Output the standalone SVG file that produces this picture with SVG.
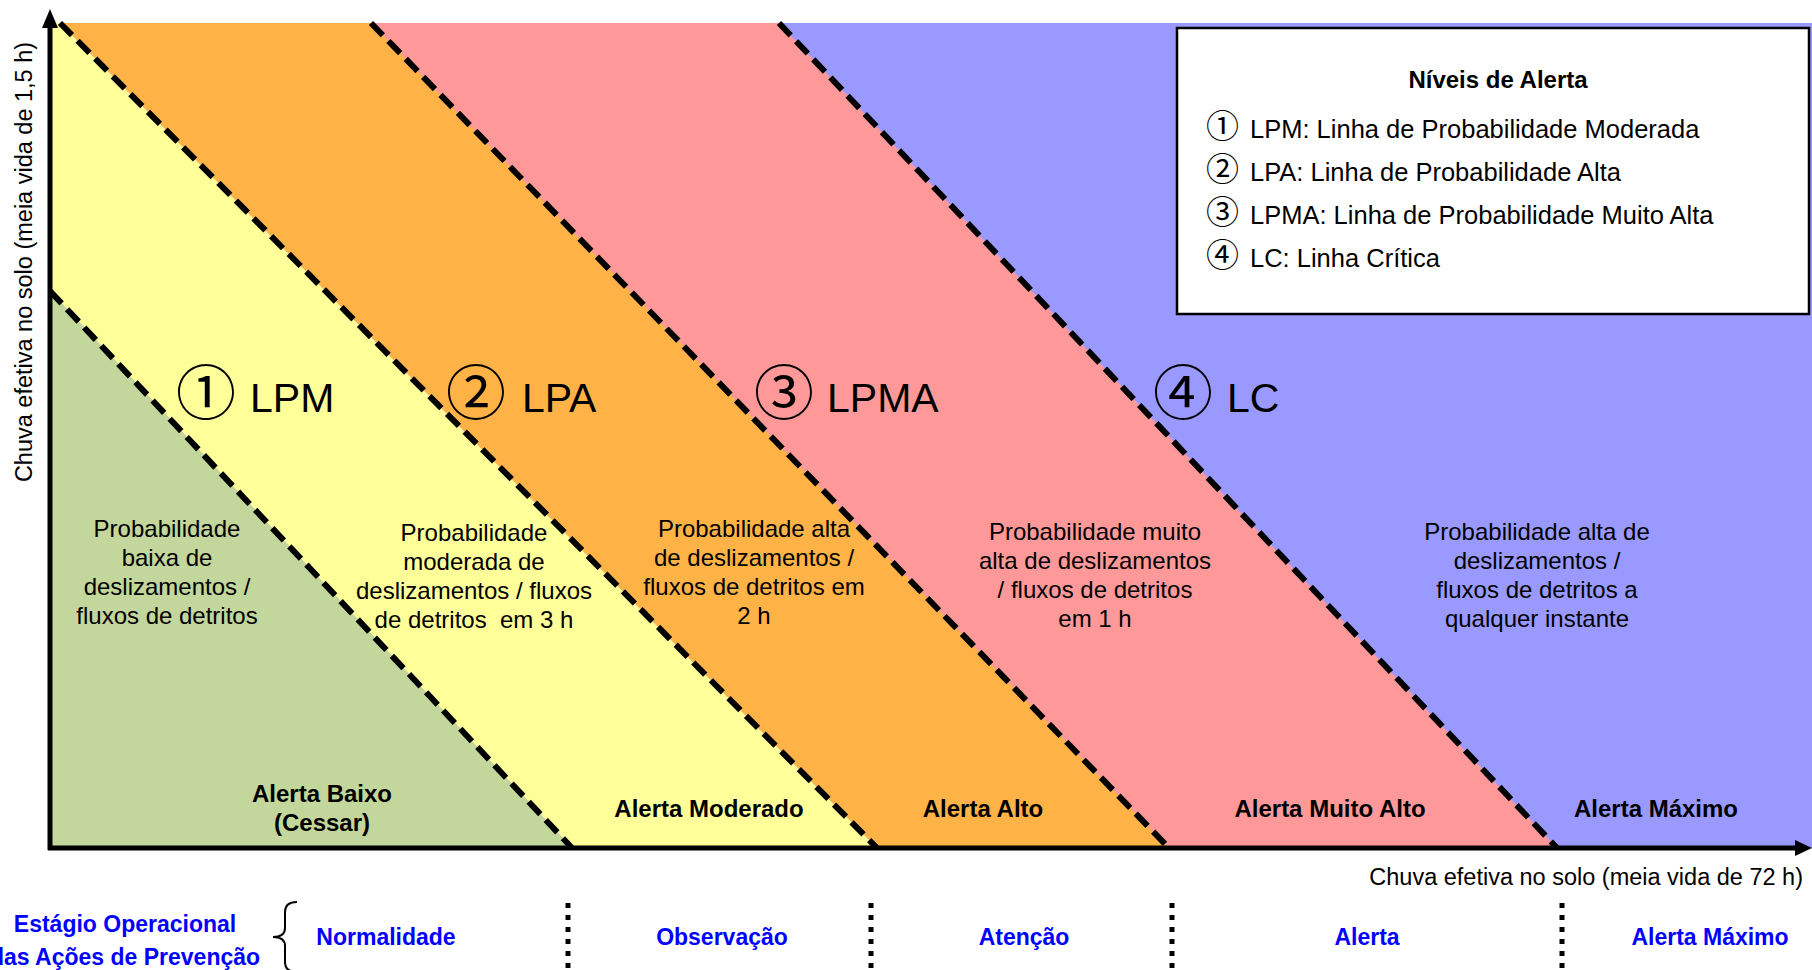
<svg xmlns="http://www.w3.org/2000/svg" width="1812" height="970" viewBox="0 0 1812 970">
<defs>
<style>
.t{font-family:"Liberation Sans",Arial,sans-serif;fill:#000}
.reg{font-size:24px;text-anchor:middle;white-space:pre}
.alv{font-size:24px;font-weight:bold;text-anchor:middle}
.big{font-size:41px}
.cd{font-family:"Noto Sans CJK JP","DejaVu Sans",sans-serif;font-weight:normal}
.leg{font-size:25.5px}
.blue{font-family:"Liberation Sans",Arial,sans-serif;font-size:23px;font-weight:bold;fill:#0000FF;text-anchor:middle}
.dash{stroke:#000;stroke-width:6;stroke-dasharray:17 8;fill:none}
.dot{stroke:#000;stroke-width:5;stroke-dasharray:5 7;fill:none}
.axis{stroke:#000;stroke-width:5;fill:none}
</style>
</defs>
<g id="bands">
<rect x="50" y="23" width="1762" height="825" fill="#9999FF"/>
<polygon points="371,23 779,23 1557,848 1169,848" fill="#FF9999"/>
<polygon points="60,23 371,23 1169,848 877,848" fill="#FFB347"/>
<polygon points="50,23 60,23 877,848 572,848 50,291" fill="#FFFF99"/>
<polygon points="50,291 572,848 50,848" fill="#C3D69B"/>
</g>
<g id="connectors">
<line class="dash" x1="50" y1="291" x2="572" y2="848"/>
<line class="dash" x1="60" y1="23" x2="877" y2="848"/>
<line class="dash" x1="371" y1="23" x2="1169" y2="848"/>
<line class="dash" x1="779" y1="23" x2="1557" y2="848"/>
</g>
<g id="axes">
<line class="axis" x1="50" y1="850" x2="50" y2="26"/>
<polygon points="50,9 42,28 58,28" fill="#000"/>
<line class="axis" x1="48" y1="848" x2="1797" y2="848"/>
<polygon points="1812,848 1795,840 1795,856" fill="#000"/>
<text class="t" font-size="23.5" text-anchor="middle" transform="translate(32,262) rotate(-90)">Chuva efetiva no solo (meia vida de 1,5 h)</text>
<text class="t" font-size="23.5" text-anchor="end" x="1803" y="885">Chuva efetiva no solo (meia vida de 72 h)</text>
</g>
<g id="line-labels">
<text class="t big" x="176" y="415"><tspan class="cd" font-size="60">① </tspan><tspan x="250" y="412">LPM</tspan></text>
<text class="t big" x="446" y="415"><tspan class="cd" font-size="60">② </tspan><tspan x="522" y="412">LPA</tspan></text>
<text class="t big" x="754" y="415"><tspan class="cd" font-size="60">③ </tspan><tspan x="827" y="412">LPMA</tspan></text>
<text class="t big" x="1153" y="415"><tspan class="cd" font-size="60">④ </tspan><tspan x="1227" y="412">LC</tspan></text>
</g>
<g id="zone-green">
<text class="t reg"><tspan x="167" y="537">Probabilidade</tspan><tspan x="167" y="566">baixa de</tspan><tspan x="167" y="595">deslizamentos /</tspan><tspan x="167" y="624">fluxos de detritos</tspan></text>
<text class="t alv"><tspan x="322" y="802">Alerta Baixo</tspan><tspan x="322" y="831">(Cessar)</tspan></text>
</g>
<g id="zone-yellow">
<text class="t reg"><tspan x="474" y="541">Probabilidade</tspan><tspan x="474" y="570">moderada de</tspan><tspan x="474" y="599">deslizamentos / fluxos</tspan><tspan x="474" y="628">de detritos  em 3 h</tspan></text>
<text class="t alv" x="709" y="817">Alerta Moderado</text>
</g>
<g id="zone-orange">
<text class="t reg"><tspan x="754" y="537">Probabilidade alta</tspan><tspan x="754" y="566">de deslizamentos /</tspan><tspan x="754" y="595">fluxos de detritos em</tspan><tspan x="754" y="624">2 h</tspan></text>
<text class="t alv" x="983" y="817">Alerta Alto</text>
</g>
<g id="zone-pink">
<text class="t reg"><tspan x="1095" y="540">Probabilidade muito</tspan><tspan x="1095" y="569">alta de deslizamentos</tspan><tspan x="1095" y="598">/ fluxos de detritos</tspan><tspan x="1095" y="627">em 1 h</tspan></text>
<text class="t alv" x="1330" y="817">Alerta Muito Alto</text>
</g>
<g id="zone-blue">
<text class="t reg"><tspan x="1537" y="540">Probabilidade alta de</tspan><tspan x="1537" y="569">deslizamentos /</tspan><tspan x="1537" y="598">fluxos de detritos a</tspan><tspan x="1537" y="627">qualquer instante</tspan></text>
<text class="t alv" x="1656" y="817">Alerta Máximo</text>
</g>
<g id="legend">
<rect x="1177" y="28" width="632" height="286" fill="#FFFFFF" stroke="#000" stroke-width="2.5"/>
<text class="t" font-size="24" font-weight="bold" text-anchor="middle" x="1498" y="88">Níveis de Alerta</text>
<text class="t leg" x="1206" y="138"><tspan class="cd" font-size="33">① </tspan><tspan x="1250" y="138">LPM: Linha de Probabilidade Moderada</tspan></text>
<text class="t leg" x="1206" y="181"><tspan class="cd" font-size="33">② </tspan><tspan x="1250" y="181">LPA: Linha de Probabilidade Alta</tspan></text>
<text class="t leg" x="1206" y="224"><tspan class="cd" font-size="33">③ </tspan><tspan x="1250" y="224">LPMA: Linha de Probabilidade Muito Alta</tspan></text>
<text class="t leg" x="1206" y="267"><tspan class="cd" font-size="33">④ </tspan><tspan x="1250" y="267">LC: Linha Crítica</tspan></text>
</g>
<g id="stages">
<text class="blue"><tspan x="125" y="932">Estágio Operacional</tspan><tspan x="125" y="965">das Ações de Prevenção</tspan></text>
<path d="M297,902 Q285,902 285,912 L285,928 Q285,937 273,937 Q285,937 285,946 L285,962 Q285,972 297,972" fill="none" stroke="#000" stroke-width="2"/>
<text class="blue" x="386" y="945">Normalidade</text>
<text class="blue" x="722" y="945">Observação</text>
<text class="blue" x="1024" y="945">Atenção</text>
<text class="blue" x="1367" y="945">Alerta</text>
<text class="blue" x="1710" y="945">Alerta Máximo</text>
<line class="dot" x1="568" y1="903" x2="568" y2="975"/>
<line class="dot" x1="871" y1="903" x2="871" y2="975"/>
<line class="dot" x1="1172" y1="903" x2="1172" y2="975"/>
<line class="dot" x1="1562" y1="903" x2="1562" y2="975"/>
</g>
</svg>
